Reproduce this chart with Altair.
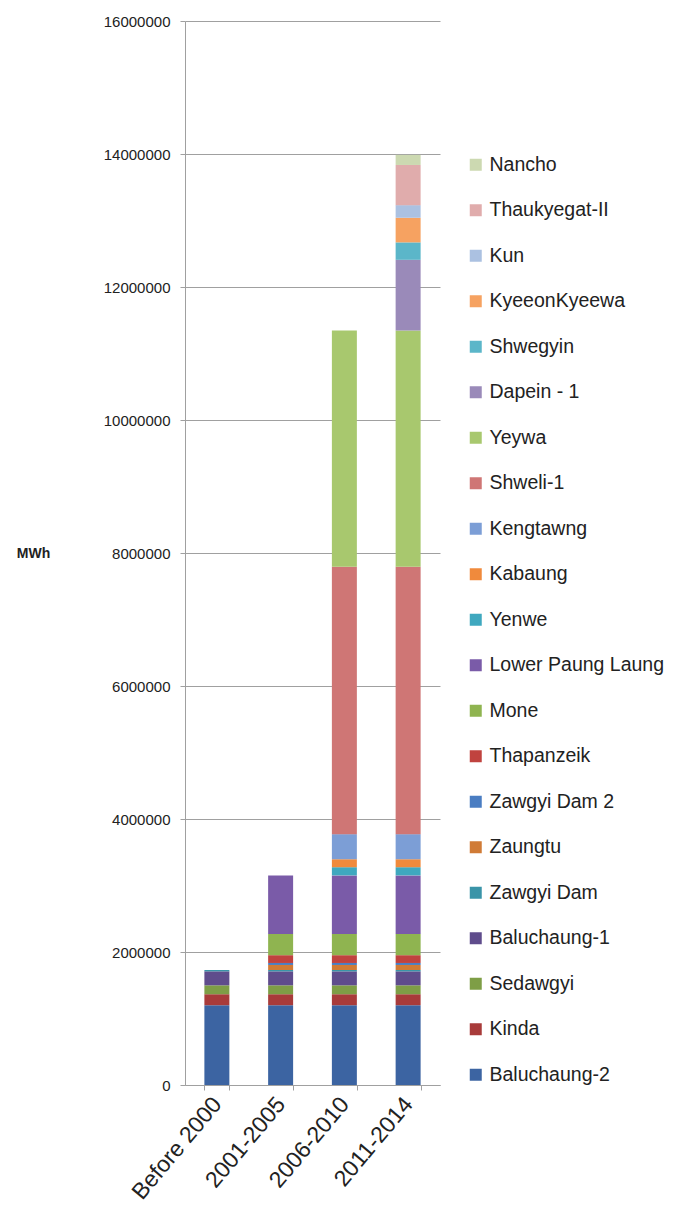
import altair as alt
import pandas as pd

categories = ["Before 2000", "2001-2005", "2006-2010", "2011-2014"]

series = [
    "Baluchaung-2", "Kinda", "Sedawgyi", "Baluchaung-1", "Zawgyi Dam", "Zaungtu",
    "Zawgyi Dam 2", "Thapanzeik", "Mone", "Lower Paung Laung", "Yenwe", "Kabaung",
    "Kengtawng", "Shweli-1", "Yeywa", "Dapein - 1", "Shwegyin", "KyeeonKyeewa",
    "Kun", "Thaukyegat-II", "Nancho",
]

# MWh per period (Before 2000, 2001-2005, 2006-2010, 2011-2014)
baluchaung_2 = [1200000, 1200000, 1200000, 1200000]
kinda = [165000, 165000, 165000, 165000]
sedawgyi = [134000, 134000, 134000, 134000]
baluchaung_1 = [210000, 210000, 210000, 210000]
zawgyi_dam = [20000, 20000, 20000, 20000]
zaungtu = [0, 76000, 76000, 76000]
zawgyi_dam_2 = [0, 30000, 30000, 30000]
thapanzeik = [0, 117000, 117000, 117000]
mone = [0, 320000, 320000, 320000]
lower_paung_laung = [0, 880000, 880000, 880000]
yenwe = [0, 0, 123000, 123000]
kabaung = [0, 0, 120000, 120000]
kengtawng = [0, 0, 377000, 377000]
shweli_1 = [0, 0, 4022000, 4022000]
yeywa = [0, 0, 3550000, 3550000]
dapein_1 = [0, 0, 0, 1065000]
shwegyin = [0, 0, 0, 262000]
kyeeonkyeewa = [0, 0, 0, 370000]
kun = [0, 0, 0, 190000]
thaukyegat_2 = [0, 0, 0, 604000]
nancho = [0, 0, 0, 152000]

values = [
    baluchaung_2, kinda, sedawgyi, baluchaung_1, zawgyi_dam, zaungtu,
    zawgyi_dam_2, thapanzeik, mone, lower_paung_laung, yenwe, kabaung,
    kengtawng, shweli_1, yeywa, dapein_1, shwegyin, kyeeonkyeewa,
    kun, thaukyegat_2, nancho,
]

colors = [
    "#3C64A2", "#A83B3A", "#7E9E46", "#5F4C8C", "#3A94A8", "#D07B36",
    "#4A7DC2", "#C0433F", "#8FB450", "#7A5BA8", "#3FA8BF", "#F08A3C",
    "#7C9ED6", "#CF7675", "#A8C86E", "#9A8AB9", "#5BB6C9", "#F6A261",
    "#ABC1E1", "#E0ACAC", "#CCD9B1",
]

y_ticks = [0, 2000000, 4000000, 6000000, 8000000, 10000000, 12000000, 14000000, 16000000]

rows = []
for i, (name, vals) in enumerate(zip(series, values)):
    for cat, v in zip(categories, vals):
        if v > 0:
            rows.append({"period": cat, "plant": name, "value": v, "idx": i})
df = pd.DataFrame(rows)

chart = alt.Chart(df).mark_bar().encode(
    x=alt.X(
        "period:N",
        sort=categories,
        scale=alt.Scale(paddingInner=0.608, paddingOuter=0.304),
        axis=alt.Axis(
            title=None,
            labelAngle=310,
            labelFontSize=23,
            labelColor="#222222",
            labelPadding=10,
            tickBand="extent",
            tickSize=5,
            tickColor="#A0A0A0",
            domainColor="#A0A0A0",
        ),
    ),
    y=alt.Y(
        "value:Q",
        stack="zero",
        scale=alt.Scale(domain=[0, 16000000], nice=False),
        axis=alt.Axis(
            values=y_ticks,
            format="d",
            title="MWh",
            titleAngle=0,
            titleX=-152,
            titleY=532,
            titleAlign="center",
            titleBaseline="middle",
            titleFontSize=14,
            titleFontWeight="bold",
            titleColor="#222222",
            labelFontSize=15,
            labelColor="#222222",
            labelPadding=10,
            tickSize=5,
            tickColor="#A0A0A0",
            domainColor="#A0A0A0",
            gridColor="#A0A0A0",
            gridWidth=1,
        ),
    ),
    color=alt.Color(
        "plant:N",
        scale=alt.Scale(domain=series, range=colors),
        legend=alt.Legend(
            title=None,
            values=series[::-1],
            orient="none",
            legendX=281,
            legendY=134,
            labelFontSize=19.5,
            labelColor="#222222",
            labelOffset=4,
            symbolType="square",
            symbolSize=144,
            symbolStrokeWidth=0,
            rowPadding=24.5,
            labelLimit=400,
        ),
    ),
    order=alt.Order("idx:Q", sort="ascending"),
).properties(
    width=255,
    height=1064,
    autosize=alt.AutoSizeParams(type="none"),
    padding={"left": 177, "top": 13, "right": 232, "bottom": 124},
).configure(
    font="Liberation Sans",
).configure_view(
    stroke=None,
)

chart.save("out.html", embed_options={"renderer": "svg", "actions": False})
